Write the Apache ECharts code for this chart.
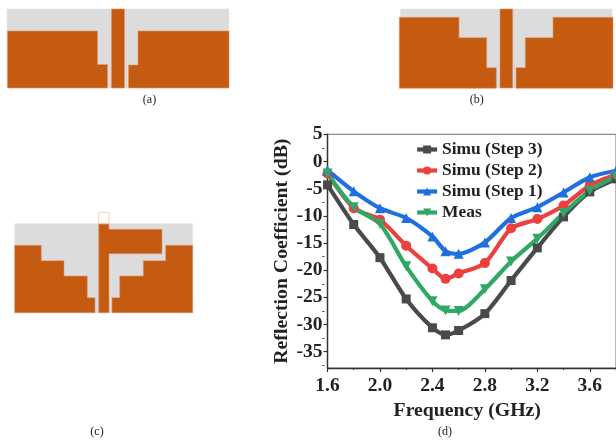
<!DOCTYPE html>
<html><head><meta charset="utf-8">
<style>html,body{margin:0;padding:0;background:#fff;overflow:hidden}#c{width:616px;height:441px}</style>
<script src="https://cdn.jsdelivr.net/npm/echarts@6/dist/echarts.min.js"></script>
</head><body><div id="c"></div>
<script>
const frequency = [1.6,1.8,2.0,2.2,2.4,2.5,2.6,2.8,3.0,3.2,3.4,3.6,3.8];
const simuStep3 = [-4.3,-11.6,-17.7,-25.3,-30.6,-31.9,-31.1,-28,-21.9,-15.9,-10.2,-5.6,-3.2];
const simuStep2 = [-2.2,-8.6,-10.7,-15.5,-19.7,-21.6,-20.6,-18.7,-12.3,-10.6,-8.1,-4.4,-2.4];
const simuStep1 = [-1.6,-5.5,-8.6,-10.4,-13.8,-16.5,-17,-14.9,-10.4,-8.4,-5.7,-2.9,-1.7];
const meas      = [-2.2,-8.4,-11.5,-19.3,-25.7,-27.4,-27.5,-23.5,-18.4,-14.2,-9.5,-5.4,-2.7];
const yMajorTicks = [5,0,-5,-10,-15,-20,-25,-30,-35];
const yMinorTicks = [2.5,-2.5,-7.5,-12.5,-17.5,-22.5,-27.5,-32.5,-37.5];

const copper='#c55a11', sub='#dcdcdc', serif='"Liberation Serif","Times New Roman",serif';
const rect=(x,y,w,h,fill)=>({type:'rect',shape:{x,y,width:w,height:h},style:{fill,stroke:fill===copper?'#dd9a6e':'#e6e6e6',lineWidth:0.6}});
const poly=(points)=>({type:'polygon',shape:{points},style:{fill:copper,stroke:'#dd9a6e',lineWidth:0.6}});
const cap=(x,y,text)=>({type:'text',x,y,style:{text,font:'12px '+serif,fill:'#222',textAlign:'center',textVerticalAlign:'middle'}});
const diagrams=[
  rect(7,9,222,79,sub),
  poly([[7.5,31],[97.5,31],[97.5,64.5],[107.5,64.5],[107.5,88],[7.5,88]]),
  rect(111.5,9,13,79,copper),
  poly([[138,31],[229,31],[229,88],[128.5,88],[128.5,65],[138,65]]),
  cap(149.5,100,'(a)'),
  rect(400.5,9,211.5,79,sub),
  poly([[399.3,17.3],[459,17.3],[459,37.7],[486.7,37.7],[486.7,67.7],[496.3,67.7],[496.3,88.3],[399.3,88.3]]),
  rect(500,9,12.7,79,copper),
  poly([[516,88.3],[516,67.7],[525.3,67.7],[525.3,37.7],[553,37.7],[553,17.3],[613,17.3],[613,88.3]]),
  cap(476.7,100,'(b)'),
  rect(14.7,223.7,178,89,sub),
  poly([[14.7,245.3],[41.3,245.3],[41.3,260.7],[64,260.7],[64,276],[87.3,276],[87.3,297.7],[95,297.7],[95,312.7],[14.7,312.7]]),
  poly([[98.7,223.7],[109,223.7],[109,229.3],[162,229.3],[162,253.7],[109,253.7],[109,312.7],[98.7,312.7]]),
  poly([[112,312.7],[112,297.7],[119.7,297.7],[119.7,276],[143.3,276],[143.3,260.7],[165.7,260.7],[165.7,245.3],[192.7,245.3],[192.7,312.7]]),
  {type:'rect',shape:{x:98.7,y:212.3,width:10.3,height:11.4},style:{fill:'none',stroke:'#f4cdb4',lineWidth:1}},
  cap(97,432,'(c)'),
  cap(445,432,'(d)')
];
const toXY=v=>frequency.map((f,i)=>[f,v[i]]);
const line=(name,vals,color,symbol,rot,size)=>({name,type:'line',data:toXY(vals),smooth:0.25,showSymbol:true,symbol,symbolRotate:rot,symbolSize:size,
  lineStyle:{color,width:4.2},itemStyle:{color},clip:false,z:3});
const chart=echarts.init(document.getElementById('c'),null,{renderer:'canvas'});
chart.setOption({
  animation:false,
  backgroundColor:'#fff',
  graphic:diagrams,
  grid:{left:327.5,top:134.3,width:291.6,height:233.7,show:true,borderColor:'#8a8a8a',borderWidth:1.2,backgroundColor:'transparent'},
  legend:{orient:'vertical',left:415,top:141,padding:0,itemWidth:20,itemHeight:10,itemGap:4,
    lineStyle:{width:4.2},
    textStyle:{fontFamily:serif,fontWeight:'bold',fontSize:17.4,color:'#222',lineHeight:17},
    data:['Simu (Step 3)','Simu (Step 2)','Simu (Step 1)','Meas']},
  xAxis:{type:'value',min:1.6,max:3.8,interval:0.4,position:'bottom',splitLine:{show:false},minorSplitLine:{show:false},
    axisLine:{show:true,onZero:false,lineStyle:{color:'#333',width:1.4}},
    name:'Frequency (GHz)',nameLocation:'middle',nameGap:29,
    nameTextStyle:{fontFamily:serif,fontWeight:'bold',fontSize:19.8,color:'#222',padding:[0,0,0,-9]},
    axisTick:{show:true,length:4,lineStyle:{color:'#333',width:1.2}},
    minorTick:{show:true,splitNumber:2,length:2,lineStyle:{color:'#333',width:1}},
    axisLabel:{show:true,margin:8,hideOverlap:false,formatter:v=>v.toFixed(1),showMinLabel:true,showMaxLabel:false,
      fontFamily:serif,fontWeight:'bold',fontSize:19.5,color:'#222'}},
  yAxis:[
   {type:'value',min:-38,max:5,position:'left',splitLine:{show:false},
    axisLine:{show:true,onZero:false,lineStyle:{color:'#333',width:1.4}},
    name:'Reflection Coefficient (dB)',nameLocation:'middle',nameGap:33,nameRotate:90,
    nameTextStyle:{fontFamily:serif,fontWeight:'bold',fontSize:19.8,color:'#222',padding:[0,0,3,0]},
    axisTick:{show:true,length:4,customValues:yMajorTicks,lineStyle:{color:'#333',width:1.2}},
    axisLabel:{show:true,customValues:yMajorTicks,margin:5,hideOverlap:false,
      fontFamily:serif,fontWeight:'bold',fontSize:19.5,color:'#222'}},
   {type:'value',min:-38,max:5,position:'right',offset:-291.6,axisLine:{show:false,onZero:false},splitLine:{show:false},axisLabel:{show:false},
    axisTick:{show:true,inside:true,length:2,customValues:yMinorTicks,lineStyle:{color:'#333',width:1}}}
  ],
  series:[
    line('Simu (Step 3)',simuStep3,'#4a4a4a','rect',0,9),
    line('Simu (Step 2)',simuStep2,'#ee3f3f','circle',0,10),
    line('Simu (Step 1)',simuStep1,'#1f6fdf','triangle',0,10),
    line('Meas',meas,'#2fa866','triangle',180,10)
  ]
});
</script></body></html>
